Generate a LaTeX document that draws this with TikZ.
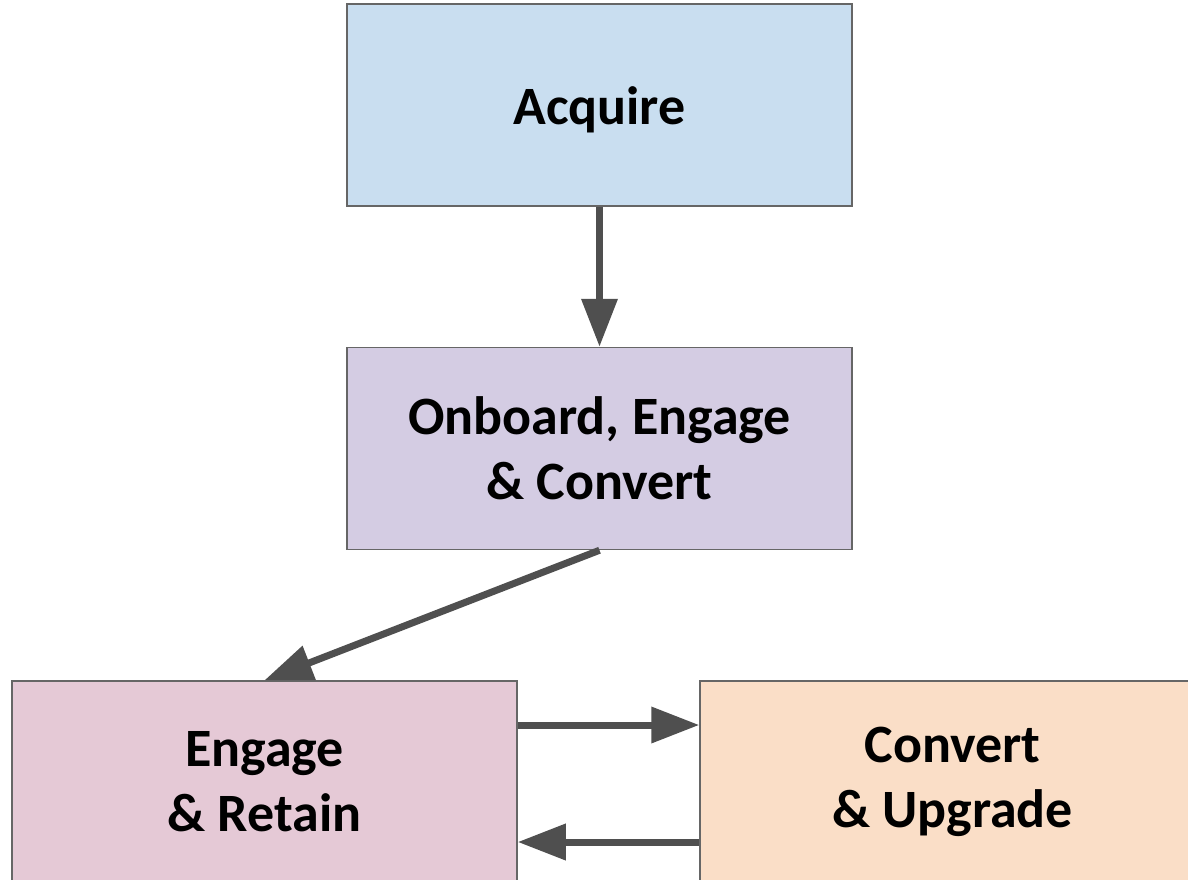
\documentclass[tikz,border=0pt]{standalone}
\usepackage{fontspec}
\setmainfont{Carlito}
\usetikzlibrary{arrows.meta}

\begin{document}
\begin{tikzpicture}[x=1pt,y=-1pt]
\definecolor{mycolorC9DDF0}{rgb}{0.79,0.87,0.94}
\definecolor{mycolorD4CCE3}{rgb}{0.83,0.8,0.89}
\definecolor{mycolorE6C9D7}{rgb}{0.9,0.79,0.84}
\definecolor{mycolorFBDFC7}{rgb}{0.98,0.87,0.78}
\definecolor{mycolor666666}{rgb}{0.4,0.4,0.4}
\definecolor{mycolor505050}{rgb}{0.31,0.31,0.31}
\tikzset{
stage/.style={draw=mycolor666666,line width=1.5pt,minimum width=505pt,minimum height=202pt,inner sep=0.0,align=center,font=\fontsize{54pt}{65pt}\selectfont\bfseries,execute at begin node={\rule{0pt}{48pt}}},
flow/.style={draw=mycolor505050,line width=7pt,-{Triangle[length=48pt,width=35pt]}}
}
\path [use as bounding box,clip] (0,0) rectangle (1188,880);
\begin{scope}
% \fontspec{Carlito Bold}
\node [stage,fill=mycolorC9DDF0] (Acquire) at (599.5,105) {Acquire};
\node [stage,fill=mycolorD4CCE3] (Onboard) at (599.5,448.5) {Onboard, Engage\\\& Convert};
\node [stage,fill=mycolorE6C9D7] (Retain) at (264.5,782) {Engage\\\& Retain};
\node [stage,fill=mycolorFBDFC7] (Upgrade) at (952.5,782) {Convert\\\& Upgrade};
\end{scope}
\begin{scope}
\draw [flow] (Acquire.south) -- (Onboard.north);
\draw [flow] (Onboard.south) -- (Retain.north);
\draw [flow] ([yshift=57pt]Retain.east) -- ([yshift=57pt]Upgrade.west);
\draw [flow] ([yshift=-60pt]Upgrade.west) -- ([yshift=-60pt]Retain.east);
\end{scope}
\end{tikzpicture}
\end{document}
